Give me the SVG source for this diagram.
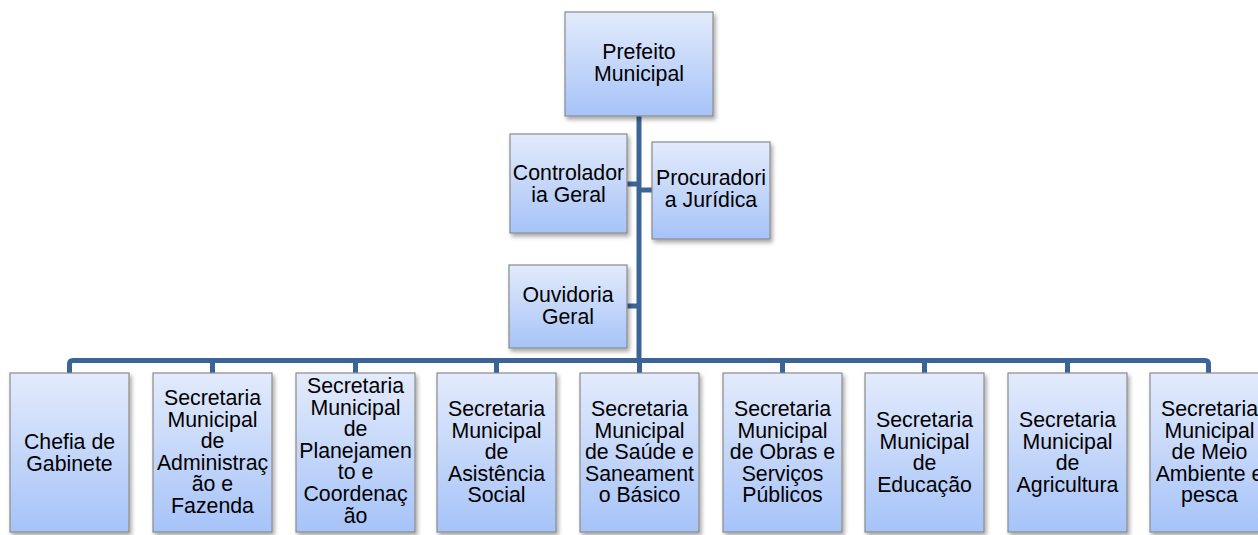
<svg xmlns="http://www.w3.org/2000/svg" width="1258" height="535" viewBox="0 0 1258 535">
<defs>
<linearGradient id="g" x1="0" y1="0" x2="0" y2="1">
<stop offset="0" stop-color="#e3ebfc"/>
<stop offset="1" stop-color="#a6c3f8"/>
</linearGradient>
<filter id="sh" x="-10%" y="-10%" width="125%" height="125%">
<feDropShadow dx="2" dy="3" stdDeviation="2" flood-color="#000" flood-opacity="0.35"/>
</filter>
</defs>
<style>
.b{fill:url(#g);stroke:#8a8a8a;stroke-width:1.2;filter:url(#sh)}
.t{font-family:"Liberation Sans",Arial,sans-serif;font-size:21.3px;fill:#000;text-anchor:middle}
.c{fill:none;stroke:#3c6597;stroke-width:5}
</style>
<rect width="1258" height="535" fill="#fff"/>
<g id="connectors">
<path class="c" d="M639 116V360.5"/>
<path class="c" d="M627 184H639M639 190H652M627 306H639"/>
<path class="c" d="M69.5 373V364Q69.5 360.5 73 360.5H1205Q1208.5 360.5 1208.5 364V373"/>
<path class="c" d="M212.5 360.5V373M355.5 360.5V373M496.5 360.5V373M639.5 360.5V373M782.5 360.5V373M924.5 360.5V373M1067.5 360.5V373"/>
</g>
<g id="prefeito"><rect class="b" x="565" y="12" width="148" height="104"/>
<text class="t" x="639"><tspan x="639" y="59">Prefeito</tspan><tspan x="639" y="81">Municipal</tspan></text></g>
<g id="controladoria"><rect class="b" x="510" y="134" width="117" height="99"/>
<text class="t"><tspan x="568.5" y="180">Controlador</tspan><tspan x="568.5" y="202">ia Geral</tspan></text></g>
<g id="procuradoria"><rect class="b" x="652" y="142" width="118" height="97"/>
<text class="t"><tspan x="711" y="185">Procuradori</tspan><tspan x="711" y="207">a Jurídica</tspan></text></g>
<g id="ouvidoria"><rect class="b" x="509" y="265" width="118" height="83"/>
<text class="t"><tspan x="568" y="302">Ouvidoria</tspan><tspan x="568" y="324">Geral</tspan></text></g>
<g id="chefia"><rect class="b" x="10" y="373" width="119" height="159"/>
<text class="t"><tspan x="69.5" y="449">Chefia de</tspan><tspan x="69.5" y="470.6">Gabinete</tspan></text></g>
<g id="administracao"><rect class="b" x="153" y="373" width="119" height="159"/>
<text class="t"><tspan x="212.5" y="405">Secretaria</tspan><tspan x="212.5" y="426.6">Municipal</tspan><tspan x="212.5" y="448.2">de</tspan><tspan x="212.5" y="469.8">Administraç</tspan><tspan x="212.5" y="491.4">ão e</tspan><tspan x="212.5" y="513">Fazenda</tspan></text></g>
<g id="planejamento"><rect class="b" x="296" y="373" width="119" height="159"/>
<text class="t"><tspan x="355.5" y="393">Secretaria</tspan><tspan x="355.5" y="414.6">Municipal</tspan><tspan x="355.5" y="436.2">de</tspan><tspan x="355.5" y="457.8">Planejamen</tspan><tspan x="355.5" y="479.4">to e</tspan><tspan x="355.5" y="501">Coordenaç</tspan><tspan x="355.5" y="522.6">ão</tspan></text></g>
<g id="assistencia"><rect class="b" x="437" y="373" width="119" height="159"/>
<text class="t"><tspan x="496.5" y="416">Secretaria</tspan><tspan x="496.5" y="437.6">Municipal</tspan><tspan x="496.5" y="459.2">de</tspan><tspan x="496.5" y="480.8">Asistência</tspan><tspan x="496.5" y="502.4">Social</tspan></text></g>
<g id="saude"><rect class="b" x="580" y="373" width="119" height="159"/>
<text class="t"><tspan x="639.5" y="416">Secretaria</tspan><tspan x="639.5" y="437.6">Municipal</tspan><tspan x="639.5" y="459.2">de Saúde e</tspan><tspan x="639.5" y="480.8">Saneament</tspan><tspan x="639.5" y="502.4">o Básico</tspan></text></g>
<g id="obras"><rect class="b" x="723" y="373" width="119" height="159"/>
<text class="t"><tspan x="782.5" y="416">Secretaria</tspan><tspan x="782.5" y="437.6">Municipal</tspan><tspan x="782.5" y="459.2">de Obras e</tspan><tspan x="782.5" y="480.8">Serviços</tspan><tspan x="782.5" y="502.4">Públicos</tspan></text></g>
<g id="educacao"><rect class="b" x="865" y="373" width="119" height="159"/>
<text class="t"><tspan x="924.5" y="427">Secretaria</tspan><tspan x="924.5" y="448.6">Municipal</tspan><tspan x="924.5" y="470.2">de</tspan><tspan x="924.5" y="491.8">Educação</tspan></text></g>
<g id="agricultura"><rect class="b" x="1008" y="373" width="119" height="159"/>
<text class="t"><tspan x="1067.5" y="427">Secretaria</tspan><tspan x="1067.5" y="448.6">Municipal</tspan><tspan x="1067.5" y="470.2">de</tspan><tspan x="1067.5" y="491.8">Agricultura</tspan></text></g>
<g id="meioambiente"><rect class="b" x="1150" y="373" width="119" height="159"/>
<text class="t"><tspan x="1209.5" y="416">Secretaria</tspan><tspan x="1209.5" y="437.6">Municipal</tspan><tspan x="1209.5" y="459.2">de Meio</tspan><tspan x="1209.5" y="480.8">Ambiente e</tspan><tspan x="1209.5" y="502.4">pesca</tspan></text></g>
</svg>
